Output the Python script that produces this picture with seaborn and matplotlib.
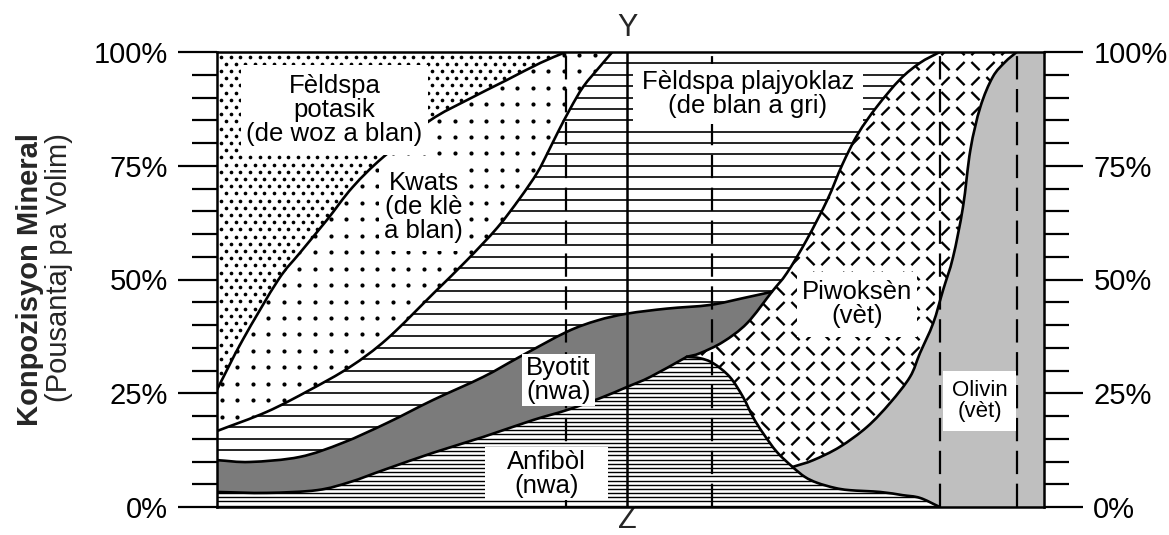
import numpy as np
import matplotlib
matplotlib.use("Agg")
import matplotlib.pyplot as plt
import seaborn as sns
from matplotlib.path import Path
from matplotlib.patches import PathPatch, Rectangle
from matplotlib.collections import LineCollection

# ---------------------------------------------------------------------------
# Boundary curves between the mineral fields.
# x : position across the rock series (0 = left edge, 100 = right edge)
# y : cumulative mineral content, percent by volume
# ---------------------------------------------------------------------------
kfsp_lower_x = [0, 3.1, 7.4, 10.0, 13.3, 16.4, 20.1, 25.8, 30.2, 35.0, 39.1, 42.2]
kfsp_lower_y = [25.8, 36.7, 49.9, 55.8, 63.1, 70.3, 76.9, 85.0, 89.4, 93.8, 97.6, 100]

quartz_lower_x = [0, 6.0, 11.2, 16.1, 20.6, 26.2, 30.2, 33.9, 36.6, 38.7, 40.0, 41.2, 42.7, 44.3, 46.3, 47.8]
quartz_lower_y = [16.7, 20.9, 25.7, 30.8, 37.0, 47.0, 54.2, 61.4, 67.8, 73.4, 77.9, 82.3, 87.5, 92.4, 96.8, 100]

biotite_upper_x = [0, 4.0, 10.0, 15.2, 20.6, 26.1, 32.2, 36.6, 42.3, 46.0, 49.6, 54.4, 59.6, 63.6, 67.1]
biotite_upper_y = [10.3, 9.9, 11.0, 14.1, 18.5, 23.5, 28.6, 33.0, 38.5, 41.0, 42.5, 43.6, 44.4, 45.9, 47.3]

biotite_lower_x = [0, 6.0, 12.1, 16.1, 20.1, 26.1, 32.2, 38.2, 42.3, 46.3, 49.6, 52.4, 56.8]
biotite_lower_y = [3.3, 3.1, 3.7, 5.5, 8.1, 11.9, 15.4, 19.1, 21.3, 23.9, 26.4, 28.6, 33.0]

pyroxene_left_x = [87.4, 85.0, 82.6, 79.8, 77.5, 75.6, 73.8, 71.3, 68.9, 67.1, 64.1, 61.2, 58.4, 56.8]
pyroxene_left_y = [100, 97.6, 94.0, 88.0, 82.0, 75.2, 67.5, 58.7, 51.4, 47.3, 40.4, 36.3, 33.8, 33.0]
PYX_BIOTITE_JOIN = 9   # index where the biotite band ends on this curve

amphibole_upper_x = [56.8, 58.4, 60.0, 62.0, 63.6, 64.8, 66.0, 67.7, 69.6,
                     71.1, 72.6, 74.7, 76.5, 80.2, 82.9, 85.0, 87.4]
amphibole_upper_y = [33.0, 32.7, 31.6, 28.6, 24.2, 19.8, 16.3, 12.1, 8.8,
                     6.6, 5.3, 4.2, 3.7, 3.3, 2.6, 2.0, 0.0]
AMPH_OLIVINE_TIP = 8   # index where the olivine field begins

olivine_left_x = [69.6, 72.1, 75.3, 78.6, 81.4, 83.8, 85.0, 86.6, 87.8, 89.0, 90.2, 91.1, 92.3, 93.8, 95.3, 96.7]
olivine_left_y = [8.8, 10.3, 13.2, 17.6, 22.9, 28.6, 33.8, 40.4, 47.7, 54.9, 65.9, 78.5, 87.9, 94.5, 97.8, 100]

# Rock-type dividers across the series
solid_dividers = [49.6]
dashed_dividers = [42.2, 59.9, 87.4, 96.7]

# Axis ticks
major_ticks = [0, 25, 50, 75, 100]
tick_labels = ["0%", "25%", "50%", "75%", "100%"]
minor_ticks = [5, 10, 15, 20, 30, 35, 40, 45, 55, 60, 65, 70, 80, 85, 90, 95]

# Field labels: text, centre (x, y), box width, box height, font size
field_labels = [
    ("Fèldspa\npotasik\n(de woz a blan)", (14.2, 87.3), 22.7, 19.8, 18.5),
    ("Kwats\n(de klè\na blan)", (25.0, 65.9), 10.9, 19.2, 18.5),
    ("Fèldspa plajyoklaz\n(de blan a gri)", (64.2, 90.7), 27.9, 13.2, 18.5),
    ("Byotit\n(nwa)", (41.3, 28.0), 8.8, 11.4, 18.5),
    ("Anfibòl\n(nwa)", (39.8, 7.3), 14.9, 11.6, 18.5),
    ("Piwoksèn\n(vèt)", (77.4, 44.6), 14.5, 14.3, 18.5),
    ("Olivin\n(vèt)", (92.2, 23.2), 8.8, 13.2, 16.0),
]

BIOTITE_GREY = "#7b7b7b"
OLIVINE_GREY = "#bfbfbf"

# ---------------------------------------------------------------------------
sns.set_theme(style="ticks")
plt.rcParams["font.family"] = ["Liberation Sans", "DejaVu Sans"]

W, H = 1169, 535
fig = plt.figure(figsize=(W / 100, H / 100), dpi=100)
ax = fig.add_axes([217 / W, 28 / H, 827 / W, 455 / H])
ax.set_xlim(0, 100)
ax.set_ylim(0, 100)

PX_X = 827 / 100   # pixels per x unit
PX_Y = 455 / 100   # pixels per percent


def smooth_segments(xs, ys):
    """Cubic Bezier pieces of a Catmull-Rom curve through the points."""
    p = np.column_stack([xs, ys]).astype(float)
    ext = np.vstack([2 * p[0] - p[1], p, 2 * p[-1] - p[-2]])
    segs = []
    for i in range(len(p) - 1):
        p0, p1, p2, p3 = ext[i], ext[i + 1], ext[i + 2], ext[i + 3]
        segs.append((p1, p1 + (p2 - p0) / 6, p2 - (p3 - p1) / 6, p2))
    return segs


def pieces(segs, i0=0, i1=None, reverse=False):
    i1 = len(segs) if i1 is None else i1
    part = segs[i0:i1]
    if reverse:
        part = [(d, c, b, a) for (a, b, c, d) in part[::-1]]
    return part


class PathBuilder:
    def __init__(self, start):
        self.v = [tuple(start)]
        self.c = [Path.MOVETO]

    def line(self, pt):
        self.v.append(tuple(pt))
        self.c.append(Path.LINETO)
        return self

    def curve(self, segs):
        for _, c1, c2, p2 in segs:
            self.v += [tuple(c1), tuple(c2), tuple(p2)]
            self.c += [Path.CURVE4] * 3
        return self

    def close(self):
        self.v.append(self.v[0])
        self.c.append(Path.CLOSEPOLY)
        return Path(self.v, self.c)

    def open(self):
        return Path(self.v, self.c)


kfs = smooth_segments(kfsp_lower_x, kfsp_lower_y)
qtz = smooth_segments(quartz_lower_x, quartz_lower_y)
bup = smooth_segments(biotite_upper_x, biotite_upper_y)
blo = smooth_segments(biotite_lower_x, biotite_lower_y)
pyx = smooth_segments(pyroxene_left_x, pyroxene_left_y)
amp = smooth_segments(amphibole_upper_x, amphibole_upper_y)
oli = smooth_segments(olivine_left_x, olivine_left_y)

x0 = 0
fields = {}
fields["kfsp"] = (PathBuilder((x0, 100)).line((x0, kfsp_lower_y[0]))
                  .curve(pieces(kfs)).close())
fields["quartz"] = (PathBuilder((x0, quartz_lower_y[0])).curve(pieces(qtz))
                    .line((kfsp_lower_x[-1], 100))
                    .curve(pieces(kfs, reverse=True)).close())
fields["plag"] = (PathBuilder((x0, biotite_upper_y[0])).line((x0, quartz_lower_y[0]))
                  .curve(pieces(qtz)).line((pyroxene_left_x[0], 100))
                  .curve(pieces(pyx, 0, PYX_BIOTITE_JOIN))
                  .curve(pieces(bup, reverse=True)).close())
fields["biotite"] = (PathBuilder((x0, biotite_lower_y[0])).line((x0, biotite_upper_y[0]))
                     .curve(pieces(bup))
                     .curve(pieces(pyx, PYX_BIOTITE_JOIN))
                     .curve(pieces(blo, reverse=True)).close())
fields["amph"] = (PathBuilder((x0, 0)).line((x0, biotite_lower_y[0]))
                  .curve(pieces(blo)).curve(pieces(amp)).close())
fields["pyroxene"] = (PathBuilder((pyroxene_left_x[0], 100)).curve(pieces(pyx))
                      .curve(pieces(amp, 0, AMPH_OLIVINE_TIP))
                      .curve(pieces(oli)).close())
fields["olivine"] = (PathBuilder((olivine_left_x[0], olivine_left_y[0])).curve(pieces(oli))
                     .line((100, 100)).line((100, 0)).line((amphibole_upper_x[-1], 0))
                     .curve(pieces(amp, AMPH_OLIVINE_TIP, reverse=True)).close())

fills = {"kfsp": "white", "quartz": "white", "plag": "white", "biotite": BIOTITE_GREY,
         "amph": "white", "pyroxene": "white", "olivine": OLIVINE_GREY}
patches = {}
for name, path in fields.items():
    p = PathPatch(path, facecolor=fills[name], edgecolor="none", zorder=1)
    ax.add_patch(p)
    patches[name] = p

# --- textures -------------------------------------------------------------
# plagioclase: horizontal rules every 2.5 %
plag_rules = ax.hlines(np.arange(2.5, 100, 2.5), 0, 100, colors="black",
                       linewidth=1.2, zorder=2)
plag_rules.set_clip_path(patches["plag"])

# amphibole: fine horizontal rules
amph_rules = ax.hlines(np.arange(0.3, 40, 0.92), 0, 100, colors="black",
                       linewidth=1.0, zorder=2)
amph_rules.set_clip_path(patches["amph"])

# quartz: regular dot grid
qx = np.arange(0.57, 60, 15.55 / PX_X)
qy = np.arange(19.85 - 6 * 16.45 / PX_Y, 101, 16.45 / PX_Y)
QX, QY = np.meshgrid(qx, qy)
qdots = ax.scatter(QX.ravel(), QY.ravel(), s=9, color="black", linewidths=0, zorder=2)
qdots.set_clip_path(patches["quartz"])

# potassium feldspar: dense staggered dots
kdx, kdy = 9.6 / PX_X, 7.2 / PX_Y
kx, ky = [], []
for j, yy in enumerate(np.arange(99.0, 15, -kdy)):
    off = 0.5 * kdx if j % 2 else 0.0
    for xx in np.arange(0.5 + off, 50, kdx):
        kx.append(xx)
        ky.append(yy)
kdots = ax.scatter(kx, ky, s=7, color="black", linewidths=0, zorder=2)
kdots.set_clip_path(patches["kfsp"])

# pyroxene: woven short dashes
g = 15.0
hx, hy = 4.1 / PX_X, 4.1 / PX_Y
segs = []
for i, xx in enumerate(np.arange(50, 100, g / PX_X)):
    for j, yy in enumerate(np.arange(-2, 103, g / PX_Y)):
        if (i + j) % 2 == 0:
            segs.append([(xx - hx, yy - hy), (xx + hx, yy + hy)])
        else:
            segs.append([(xx - hx, yy + hy), (xx + hx, yy - hy)])
weave = LineCollection(segs, colors="black", linewidths=1.7, zorder=2)
ax.add_collection(weave)
weave.set_clip_path(patches["pyroxene"])

# --- boundary lines -------------------------------------------------------
boundaries = [
    (kfsp_lower_x, kfsp_lower_y, kfs), (quartz_lower_x, quartz_lower_y, qtz),
    (biotite_upper_x, biotite_upper_y, bup), (biotite_lower_x, biotite_lower_y, blo),
    (pyroxene_left_x, pyroxene_left_y, pyx), (amphibole_upper_x, amphibole_upper_y, amp),
    (olivine_left_x, olivine_left_y, oli),
]
for bx, by, sg in boundaries:
    path = PathBuilder((bx[0], by[0])).curve(pieces(sg)).open()
    ax.add_patch(PathPatch(path, facecolor="none", edgecolor="black",
                           linewidth=1.9, zorder=3, capstyle="round"))

for xv in solid_dividers:
    ax.axvline(xv, color="black", linewidth=1.8, zorder=4)
for xv in dashed_dividers:
    ax.axvline(xv, color="black", linewidth=1.6, linestyle=(0, (10.5, 4.3)), zorder=4)

# --- field labels -----------------------------------------------------------
for text, (cx, cy), bw, bh, fs in field_labels:
    ax.add_patch(Rectangle((cx - bw / 2, cy - bh / 2), bw, bh, facecolor="white",
                           edgecolor="none", zorder=5))
    ax.text(cx, cy, text, ha="center", va="center", fontsize=fs, linespacing=1.0,
            color="black", zorder=6, multialignment="center")

# --- axes -------------------------------------------------------------------
ax.set_xticks([])
ax.set_yticks(major_ticks)
ax.set_yticklabels(tick_labels)
ax.set_yticks(minor_ticks, minor=True)
ax.tick_params(axis="y", which="major", direction="out", length=28, width=1.6,
               pad=7.5, labelsize=21, left=True, right=True,
               labelleft=True, labelright=True, color="black", labelcolor="black")
ax.tick_params(axis="y", which="minor", direction="out", length=18, width=1.6,
               left=True, right=True, color="black")
for s in ax.spines.values():
    s.set_visible(True)
    s.set_linewidth(1.8)
    s.set_color("black")
    s.set_zorder(10)
ax.grid(False)
ax.set_facecolor("white")

ax.text(solid_dividers[0], 103.5, "Y", ha="center", va="baseline", fontsize=22,
        clip_on=False)
ax.text(solid_dividers[0], -4.7, "Z", ha="center", va="baseline", fontsize=22,
        clip_on=False)

fig.text(30 / W, 1 - 279 / H, "Konpozisyon Mineral", rotation=90, ha="center",
         va="center", fontsize=21, fontweight="bold")
fig.text(59 / W, 1 - 268 / H, "(Pousantaj pa Volim)", rotation=90, ha="center",
         va="center", fontsize=21)

fig.savefig("out.png", dpi=100, facecolor="white")
